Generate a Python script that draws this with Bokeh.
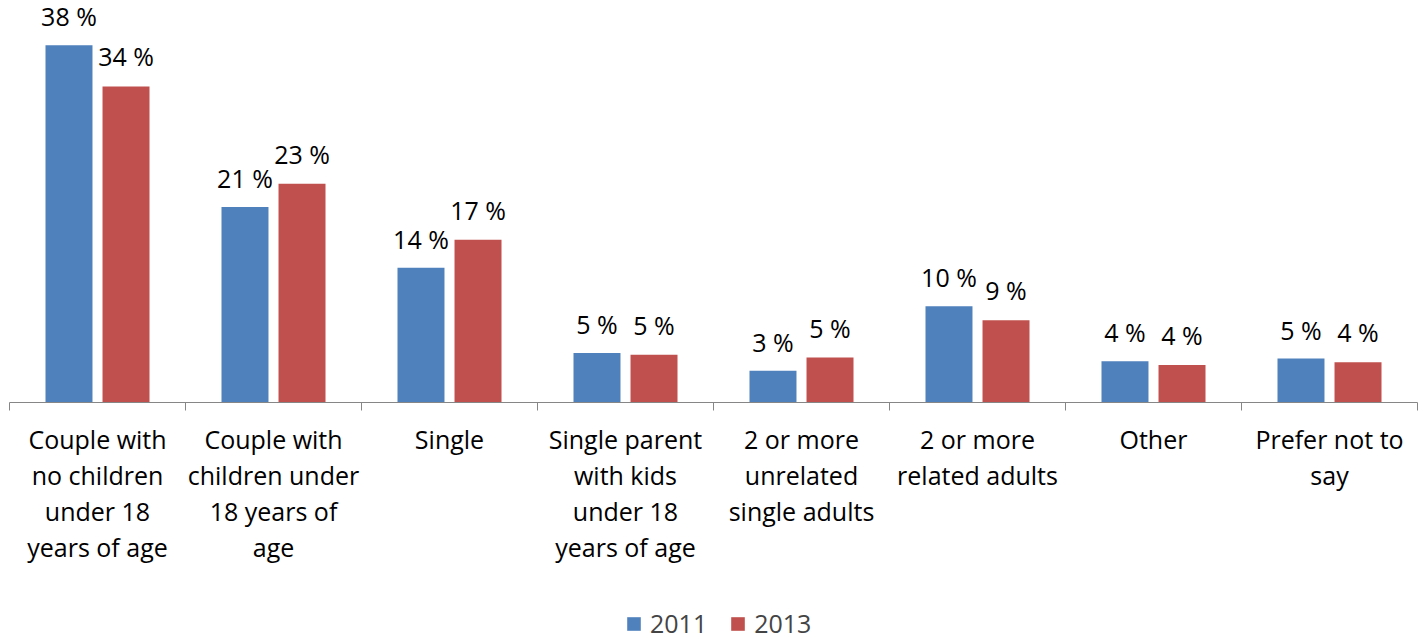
from bokeh.plotting import figure
from bokeh.models import (ColumnDataSource, LabelSet, Legend, LegendItem,
                          FixedTicker, Range1d)
from bokeh.core.properties import value
from bokeh.transform import dodge
from bokeh.embed import file_html
from bokeh.resources import INLINE

categories = [
    "Couple with\nno children\nunder 18\nyears of age",
    "Couple with\nchildren under\n18 years of\nage",
    "Single",
    "Single parent\nwith kids\nunder 18\nyears of age",
    "2 or more\nunrelated\nsingle adults",
    "2 or more\nrelated adults",
    "Other",
    "Prefer not to\nsay",
]
values_2011 = [38.2, 20.9, 14.4, 5.3, 3.4, 10.3, 4.4, 4.7]
values_2013 = [33.8, 23.4, 17.4, 5.1, 4.8, 8.8, 4.0, 4.3]
labels_2011 = ["38 %", "21 %", "14 %", "5 %", "3 %", "10 %", "4 %", "5 %"]
labels_2013 = ["34 %", "23 %", "17 %", "5 %", "5 %", "9 %", "4 %", "4 %"]
series = ["2011", "2013"]
colors = ["#4F81BD", "#C0504D"]

FONT = "Open Sans"
FS = "25px"
W_PX, H_PX = 1428, 639
AX_LEFT, AX_RIGHT, AX_Y = 9, 1417, 402   # page pixels of the axis line
PX = 9.35                                 # pixels per percent
LINE_PX = 36                              # category label line spacing
FIRST_BASE = 448                          # baseline of first label line

n = len(categories)
xc = [i + 0.5 for i in range(n)]
cw = (AX_RIGHT - AX_LEFT) / n             # pixels per category

x_range = Range1d(-AX_LEFT / cw, n + (W_PX - AX_RIGHT) / cw)
y_range = Range1d(-(H_PX - AX_Y) / PX, AX_Y / PX)

src = ColumnDataSource(dict(x=xc, cat=categories, v1=values_2011, v2=values_2013,
                            l1=labels_2011, l2=labels_2013))

p = figure(width=W_PX, height=H_PX, x_range=x_range, y_range=y_range,
           output_backend="svg", toolbar_location=None, y_axis_location=None,
           min_border_left=0, min_border_right=0, min_border_top=0, min_border_bottom=0)
p.outline_line_color = None
p.grid.visible = False
p.background_fill_color = "white"
p.border_fill_color = "white"

OFF = 0.162
W = 0.267
r1 = p.vbar(x=dodge("x", -OFF), top="v1", width=W, bottom=0, source=src,
            fill_color=colors[0], line_color=None)
r2 = p.vbar(x=dodge("x", OFF), top="v2", width=W, bottom=0, source=src,
            fill_color=colors[1], line_color=None)

# category axis: tick marks at the category boundaries (drawn as minor ticks, no labels)
ax = p.xaxis[0]
ax.fixed_location = 0
ax.bounds = (0, n)
ax.ticker = FixedTicker(ticks=[], minor_ticks=list(range(n + 1)))
ax.axis_line_color = "#868686"
ax.axis_line_width = 1
ax.major_tick_line_color = None
ax.minor_tick_line_color = "#868686"
ax.minor_tick_out = 8
ax.minor_tick_in = 0

lab1 = LabelSet(x=dodge("x", -OFF), y="v1", text="l1", source=src, text_align="center",
                text_baseline="alphabetic", y_offset=19, text_font=value(FONT),
                text_font_size=value(FS), text_color="black")
lab2 = LabelSet(x=dodge("x", OFF), y="v2", text="l2", source=src, text_align="center",
                text_baseline="alphabetic", y_offset=20, text_font=value(FONT),
                text_font_size=value(FS), text_color="black")
p.add_layout(lab1)
p.add_layout(lab2)

# category labels, one centred line at a time
lx, ly, lt = [], [], []
for i, cat in enumerate(categories):
    for k, line in enumerate(cat.split("\n")):
        lx.append(xc[i])
        ly.append(-(FIRST_BASE + k * LINE_PX - AX_Y) / PX)
        lt.append(line)
src_c = ColumnDataSource(dict(x=lx, y=ly, t=lt))
catlab = LabelSet(x="x", y="y", text="t", source=src_c, text_align="center",
                  text_baseline="alphabetic", text_font=value(FONT),
                  text_font_size=value(FS), text_color="black")
p.add_layout(catlab)

legend = Legend(items=[LegendItem(label=series[0], renderers=[r1]),
                       LegendItem(label=series[1], renderers=[r2])],
                orientation="horizontal", location=(625, -1),
                glyph_width=17, glyph_height=17, label_text_font=FONT,
                label_text_font_size=FS, spacing=22, label_standoff=8,
                padding=0, margin=0, border_line_color=None,
                background_fill_alpha=0)
p.add_layout(legend)

open("out.html", "w").write(file_html(p, INLINE))
